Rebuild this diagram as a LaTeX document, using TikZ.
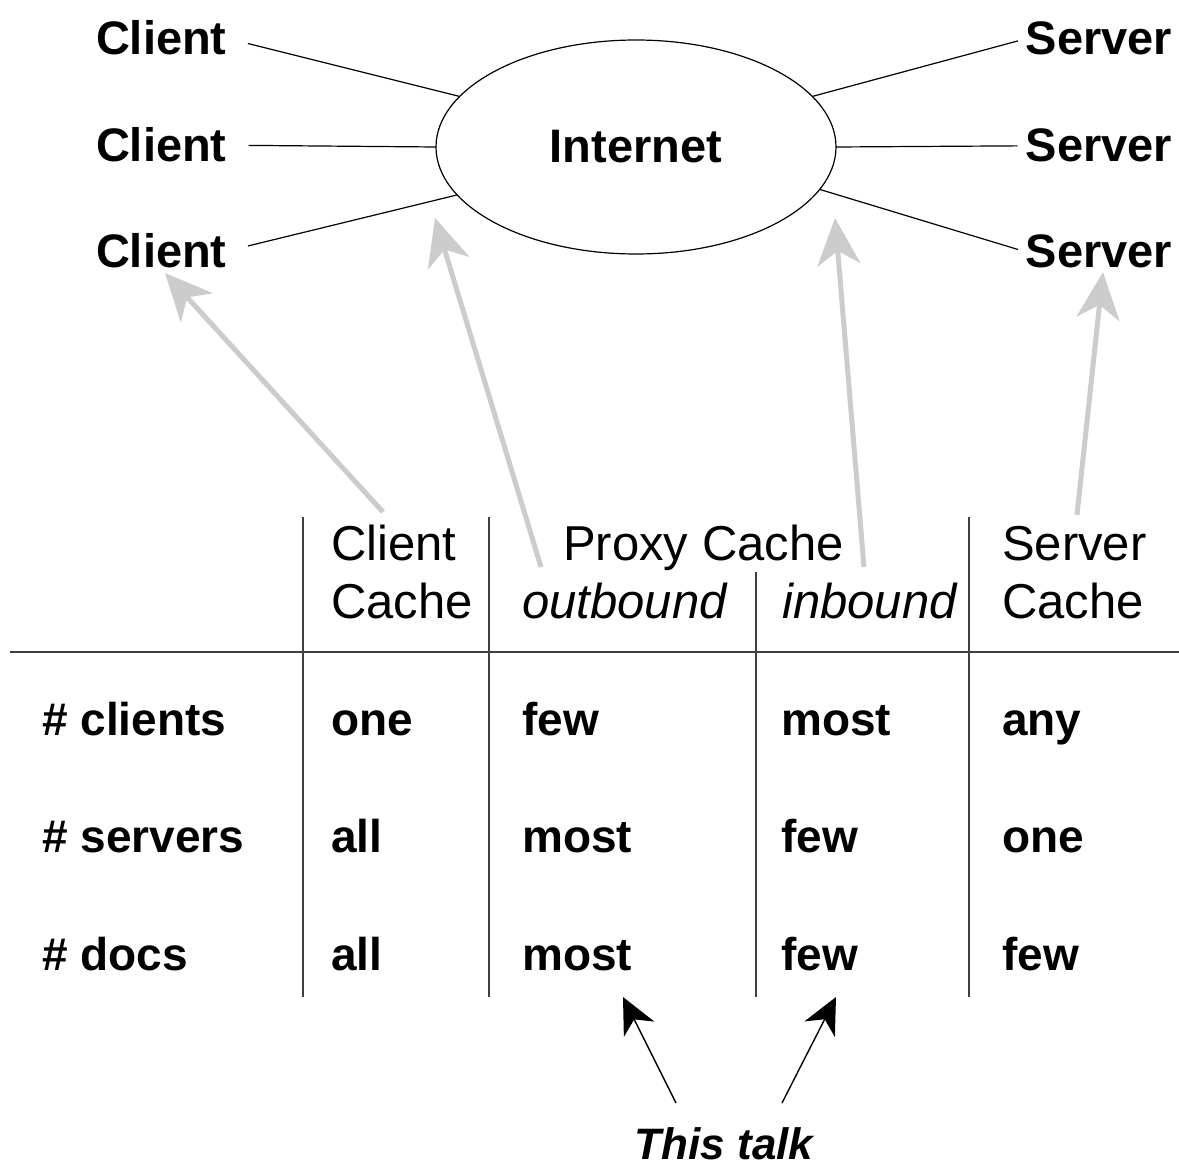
\documentclass[tikz,border=0pt]{standalone}
\usepackage{fontspec}
\setmainfont{Liberation Sans}
\usetikzlibrary{arrows.meta,shapes.geometric}
\begin{document}
\begin{tikzpicture}[x=1pt,y=-1pt,
  toplbl/.style={font=\fontsize{47}{56}\selectfont\bfseries, inner sep=0pt, outer sep=0pt},
  hdr/.style={font=\fontsize{49}{58}\selectfont, inner sep=0pt, anchor=base west},
  hdri/.style={hdr, font=\fontsize{49}{58}\selectfont\itshape},
  cell/.style={font=\fontsize{46}{55}\selectfont\bfseries, inner sep=0pt, anchor=base west},
  link/.style={draw=black, line width=1.2pt},
  rule/.style={draw=black!75, line width=1.3pt},
  grayarrow/.style={draw=black!20, line width=5pt, -{Stealth[length=47pt,width=43pt,inset=14pt]}},
  blackarrow/.style={draw=black, line width=1.4pt, -{Stealth[length=36pt,width=34pt,inset=11pt]}},
]
\useasboundingbox[fill=white] (0,0) rectangle (1179,1169);

% network
\node[ellipse, draw, line width=1.2pt, minimum width=400pt, minimum height=214pt,
      inner sep=0pt, outer sep=0pt, font=\fontsize{47}{56}\selectfont\bfseries] (inet) at (636,147) {Internet};
\node[toplbl, anchor=base west] (c1) at (96,55) {Client};
\node[toplbl, anchor=base west] (c2) at (96,162) {Client};
\node[toplbl, anchor=base west] (c3) at (96,268) {Client};
\node[toplbl, anchor=base east] (s1) at (1172,55) {Server};
\node[toplbl, anchor=base east] (s2) at (1172,162) {Server};
\node[toplbl, anchor=base east] (s3) at (1172,268) {Server};

\draw[link, shorten <=22pt] (c1.east) -- (inet.164.5);
\draw[link, shorten <=22pt] (c2.east) -- (inet.180);
\draw[link, shorten <=22pt] (c3.east) -- (inet.195.5);
\draw[link, shorten <=8pt] (s1.west) -- (inet.16);
\draw[link, shorten <=8pt] (s2.west) -- (inet.0);
\draw[link, shorten <=8pt] (s3.west) -- (inet.347);

% table rules
\draw[rule] (10,652) -- (1179,652);
\draw[rule] (303,517) -- (303,997);
\draw[rule] (489,517) -- (489,997);
\draw[rule] (756,572) -- (756,997);
\draw[rule] (969,517) -- (969,997);

% headers
\node[hdr] (hcc1) at (331,560) {Client};
\node[hdr] (hcc2) at (331,618) {Cache};
\node[hdr] (hpc) at (563,560) {Proxy Cache};
\node[hdri] (hout) at (522,618) {outbound};
\node[hdri] (hin) at (782,618) {inbound};
\node[hdr] (hsc1) at (1002,560) {Server};
\node[hdr] (hsc2) at (1002,618) {Cache};

% cells
\node[cell] (a0) at (42,735) {\# clients};
\node[cell] (a1) at (331,735) {one};
\node[cell] (a2) at (522,735) {few};
\node[cell] (a3) at (781,735) {most};
\node[cell] (a4) at (1002,735) {any};
\node[cell] (b0) at (42,852) {\# servers};
\node[cell] (b1) at (331,852) {all};
\node[cell] (b2) at (522,852) {most};
\node[cell] (b3) at (781,852) {few};
\node[cell] (b4) at (1002,852) {one};
\node[cell] (d0) at (42,970) {\# docs};
\node[cell] (d1) at (331,970) {all};
\node[cell] (d2) at (522,970) {most};
\node[cell] (d3) at (781,970) {few};
\node[cell] (d4) at (1002,970) {few};

\node[font=\fontsize{44}{52}\selectfont\bfseries\itshape, inner sep=0pt, anchor=base] (talk) at (724,1159) {This talk};

% gray arrows
\draw[grayarrow] ([shift={(52pt,48pt)}]hcc1.base west) -- ([shift={(69pt,-5pt)}]c3.base west);
\draw[grayarrow] ([shift={(-22pt,-7pt)}]hpc.base west) -- ([shift={(-201pt,-71pt)}]inet.center);
\draw[grayarrow] ([shift={(301pt,-7pt)}]hpc.base west) -- ([shift={(199pt,-71pt)}]inet.center);
\draw[grayarrow] ([shift={(75pt,45pt)}]hsc1.base west) -- ([shift={(-69pt,-4pt)}]s3.base east);

% black arrows
\draw[blackarrow] ([shift={(-48pt,56pt)}]talk.base) -- ([shift={(101pt,-27pt)}]d2.base west);
\draw[blackarrow] ([shift={(58pt,56pt)}]talk.base) -- ([shift={(55pt,-27pt)}]d3.base west);
\end{tikzpicture}
\end{document}
